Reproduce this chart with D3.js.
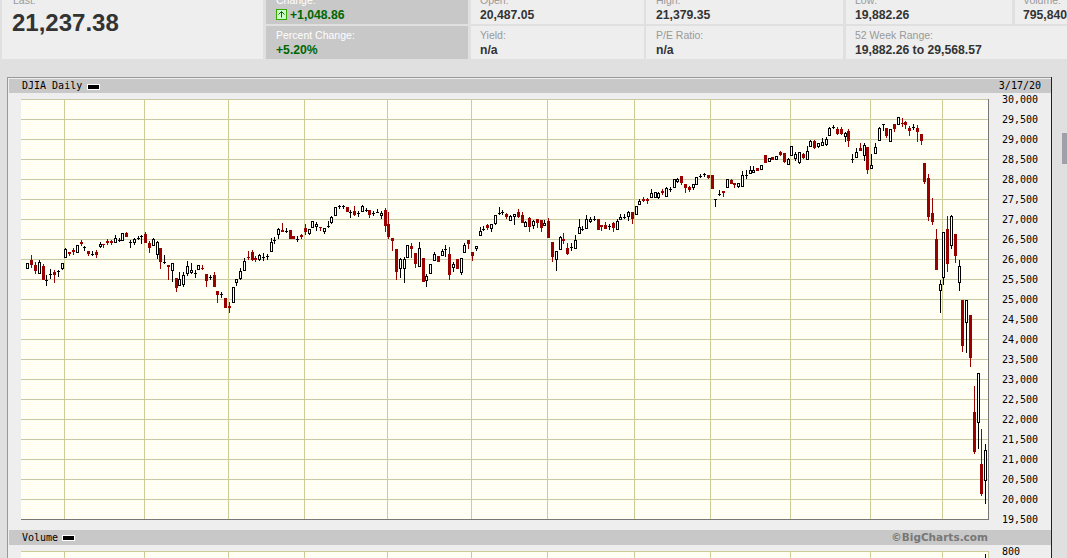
<!DOCTYPE html>
<html>
<head>
<meta charset="utf-8">
<script src="https://cdn.jsdelivr.net/npm/d3@7"></script>
<style>
  html, body { margin: 0; padding: 0; background: #e0e0e0; overflow: hidden; }
  svg { display: block; }
  text { font-family: "Liberation Sans", Arial, sans-serif; }
  .mono text, text.mono { font-family: "DejaVu Sans Mono", monospace; font-size: 10px; fill: #000; }
</style>
</head>
<body>
<div id="chart"></div>
<script>
// daily DJIA candles, one entry per trading day
const opens = [25784,25983,25858,25667,25833,25500,25650,25683,25708,25800,
  26067,26200,26242,26192,26433,26317,26225,26150,26183,26342,
  26400,26475,26467,26442,26500,26500,26658,26442,26433,26542,
  26583,26633,26417,26367,26142,26283,25942,25875,25733,25550,
  25367,25392,25667,25683,25658,25767,25800,25650,25567,25608,
  25225,25133,25033,24833,24950,25442,25542,25742,26075,26183,
  26033,26008,26058,26083,26217,26483,26642,26733,26725,26733,
  26583,26517,26608,26800,26675,26825,26842,26825,26717,26842,
  26942,27117,27350,27342,27317,27200,27225,27167,27217,27242,
  27233,27158,27192,27117,27233,26883,26533,26258,25792,25792,
  26067,26333,26167,25842,26033,25500,25667,25992,26083,26117,
  26258,26133,25808,26017,25683,26192,26492,26183,26300,26600,
  26775,26867,26792,26917,27175,27183,27142,26992,27092,27192,
  27117,26842,27033,26858,27008,27000,26858,26967,26442,26025,
  26250,26517,26300,26325,26300,26675,26775,26800,26950,27025,
  27008,26858,26858,26842,26908,26767,27025,27058,27092,27192,
  27133,27400,27517,27517,27575,27575,27575,27725,27592,27775,
  27825,27975,28083,27883,27817,27808,27900,28100,28150,28108,
  28117,27508,27642,27725,27825,27992,27925,27842,27850,28117,
  28167,28192,28283,28267,28608,28467,28558,28517,28683,28658,
  28383,28617,28533,28442,28633,28525,28842,28975,28833,28867,
  28883,29117,29317,29258,29258,29092,29225,28517,28567,28800,
  28617,28808,28292,28667,29000,29383,29283,28967,29383,29392,
  29425,29433,29292,29317,29292,29133,28408,28033,27158,26525,
  25233,25567,26758,26367,26650,25442,24983,24442,24600,22183,
  21950,20900,20487.05];
const highs = [25917,26108,25933,26000,25883,25608,25775,25750,25733,25925,
  26275,26200,26283,26375,26483,26333,26225,26208,26233,26433,
  26400,26525,26500,26600,26550,26675,26683,26500,26542,26592,
  26608,26683,26458,26542,26475,26283,26108,25875,25925,25550,
  25683,25683,25958,25917,25733,25875,25858,25650,25625,25700,
  25225,25200,25033,24933,25325,25525,25800,26042,26208,26233,
  26083,26133,26167,26150,26533,26558,26792,26908,26792,26733,
  26583,26583,26633,26900,26775,26950,26933,26825,26800,26967,
  27092,27325,27367,27375,27317,27250,27333,27217,27358,27292,
  27233,27208,27267,27208,27283,27183,26550,26258,26050,26067,
  26375,26408,26167,26433,26033,25633,25883,26200,26100,26250,
  26375,26317,25950,26017,26033,26408,26492,26183,26350,26817,
  26842,26900,26900,27125,27300,27233,27158,27125,27150,27258,
  27192,26967,27075,26992,27008,27000,27000,27033,26442,26208,
  26583,26658,26408,26408,26617,27017,26850,27117,27075,27100,
  27008,26858,26933,26892,26933,27008,27142,27142,27217,27192,
  27333,27508,27558,27533,27758,27683,27700,27758,27808,27817,
  28008,28042,28083,27883,27842,27883,28058,28150,28158,28108,
  28117,27508,27742,27725,28025,28008,27925,27925,28208,28233,
  28333,28333,28300,28375,28608,28550,28575,28600,28708,28658,
  28533,28850,28700,28700,28675,28850,28992,29000,28900,29050,
  29058,29308,29358,29325,29325,29183,29275,28642,28800,28925,
  28900,28808,28633,28908,29308,29400,29283,29275,29400,29550,
  29525,29458,29342,29400,29358,29133,28408,28133,27533,26775,
  25483,26700,27083,27108,26650,25983,24983,25000,24600,22833,
  23175,21758,21379.35];
const lows = [25767,25792,25642,25650,25492,25342,25517,25417,25558,25733,
  26042,26083,26125,26192,26350,26225,26083,26092,26042,26300,
  26283,26375,26375,26417,26450,26500,26567,26292,26358,26483,
  26392,26408,26167,26358,26017,25758,25883,25483,25433,25183,
  25350,25308,25600,25650,25533,25767,25733,25308,25483,25317,
  24917,25042,24783,24658,24950,25333,25500,25742,25983,25967,
  25942,25967,25967,26000,26217,26400,26508,26692,26675,26508,
  26508,26450,26508,26625,26608,26825,26717,26708,26633,26783,
  26900,27117,27267,27275,27192,27042,27100,27067,27200,27183,
  27042,27092,27167,27025,26683,26508,26217,25483,25550,25417,
  26067,26050,25792,25817,25450,25317,25667,25983,25933,26100,
  26067,25483,25683,25758,25608,26167,26258,25967,26217,26600,
  26717,26733,26700,26858,27108,27125,27008,26975,26875,27042,
  26925,26808,26700,26758,26800,26700,26842,26550,25950,25725,
  26250,26383,26117,26217,26300,26675,26725,26800,26925,26950,
  26742,26725,26758,26742,26700,26750,27017,27008,26975,26892,
  27133,27400,27433,27392,27575,27575,27508,27617,27575,27692,
  27825,27925,27867,27675,27700,27742,27900,28033,28067,28008,
  27775,27325,27600,27550,27825,27892,27792,27792,27833,28017,
  28150,28175,28208,28267,28408,28467,28483,28517,28583,28408,
  28367,28617,28467,28392,28517,28492,28817,28758,28783,28833,
  28850,29100,29267,29117,29125,28942,28817,28417,28567,28708,
  28458,28142,28292,28667,28992,29208,29033,28967,29183,29392,
  29317,29267,29092,29250,28942,28858,27892,26967,26858,25733,
  24667,25358,25683,26250,25900,25208,23692,23667,23317,21142,
  21267,20092,19882.26];
const closes = [25900,25867,25708,25950,25492,25500,25650,25608,25708,25925,
  26250,26150,26183,26375,26383,26317,26133,26150,26117,26400,
  26358,26425,26417,26550,26500,26658,26567,26442,26517,26542,
  26583,26408,26283,26508,26433,25933,25942,25808,25925,25292,
  25525,25625,25850,25750,25658,25875,25758,25458,25567,25317,
  25108,25133,24783,24783,25325,25525,25708,25975,26033,26000,
  25983,26108,26058,26083,26450,26483,26758,26692,26725,26508,
  26508,26517,26567,26683,26775,26950,26900,26783,26783,26842,
  27075,27325,27350,27342,27192,27200,27125,27167,27333,27242,
  27117,27158,27192,27175,26833,26567,26467,25692,26025,26025,
  26375,26267,25892,26275,25450,25583,25883,26133,25933,26208,
  26258,25608,25892,25758,26033,26358,26392,26083,26350,26725,
  26775,26783,26900,27125,27175,27183,27058,27100,27133,27058,
  26925,26933,26808,26958,26908,26800,26917,26550,26075,26208,
  26558,26475,26142,26325,26492,26808,26775,27008,27017,27025,
  26742,26825,26775,26842,26783,26958,27075,27058,27183,27017,
  27333,27458,27475,27475,27658,27683,27667,27658,27783,27775,
  28008,28025,27908,27783,27742,27875,28058,28100,28150,28033,
  27775,27508,27642,27658,28008,27900,27867,27908,28125,28117,
  28233,28250,28217,28375,28425,28550,28500,28600,28608,28442,
  28517,28850,28633,28700,28550,28725,28958,28792,28900,28933,
  29025,29283,29317,29150,29150,29158,28958,28517,28700,28708,
  28858,28233,28375,28808,29283,29383,29083,29275,29267,29550,
  29392,29367,29208,29317,29183,28967,27950,27067,26933,25733,
  25400,26700,25892,27083,26092,25850,23842,25000,23550,21192,
  23175,20142,21237.38];
// month starts, in trading days from the first candle
const monthTicks = [9.7,30.7,52.8,72.8,94.6,116.8,136.8,159.7,179.7,200.7,221.7,240.7];
const priceTicks = d3.range(19500, 30001, 500);
// only the last volume bar reaches into the visible part of the page
const volumeDays = [252];
const volumeValues = [795.84];
const volumeTicks = [800];

const width = 1067, height = 558;
const plot = {left: 21, right: 988, top: 99, bottom: 520};

const svg = d3.select("#chart").append("svg")
    .attr("width", width)
    .attr("height", height);

// dithered pale yellow of the plot background
const pattern = svg.append("defs").append("pattern")
    .attr("id", "dither")
    .attr("width", 2).attr("height", 2)
    .attr("patternUnits", "userSpaceOnUse");
pattern.append("rect").attr("width", 2).attr("height", 2).attr("fill", "#ffffff");
pattern.append("rect").attr("width", 1).attr("height", 1).attr("fill", "#ffffea");
pattern.append("rect").attr("x", 1).attr("y", 1).attr("width", 1).attr("height", 1).attr("fill", "#ffffea");

// quote header
const header = svg.append("g").attr("shape-rendering", "crispEdges");
const cells = [
    [2, 0, 261, 59, "#eeeeee"], [266, 0, 202, 24, "#c8c8c8"], [266, 26, 202, 33, "#c8c8c8"],
    [471, 0, 173, 24, "#eeeeee"], [471, 26, 173, 33, "#eeeeee"],
    [646, 0, 197, 24, "#eeeeee"], [646, 26, 197, 33, "#eeeeee"],
    [846, 0, 166, 24, "#eeeeee"], [846, 26, 221, 33, "#eeeeee"],
    [1015, 0, 52, 24, "#eeeeee"]
];
header.selectAll("rect").data(cells).join("rect")
    .attr("x", d => d[0]).attr("y", d => d[1])
    .attr("width", d => d[2]).attr("height", d => d[3])
    .attr("fill", d => d[4]);

const labels = [
    ["Last:", 13, 4, "#999999"], ["Change:", 276, 4, "#ffffff"], ["Percent Change:", 276, 39, "#ffffff"],
    ["Open:", 480, 4, "#999999"], ["Yield:", 480, 39, "#999999"],
    ["High:", 656, 4, "#999999"], ["P/E Ratio:", 656, 39, "#999999"],
    ["Low:", 855, 4, "#999999"], ["52 Week Range:", 855, 39, "#999999"], ["Volume:", 1023, 4, "#999999"]
];
svg.append("g").selectAll("text").data(labels).join("text")
    .attr("x", d => d[1]).attr("y", d => d[2])
    .attr("fill", d => d[3]).style("font-size", "10.5px")
    .text(d => d[0]);

const values = [
    ["+1,048.86", 290, 19, "#006600"], ["+5.20%", 276, 54, "#006600"],
    ["20,487.05", 480, 19, "#333333"], ["n/a", 480, 54, "#333333"],
    ["21,379.35", 656, 19, "#333333"], ["n/a", 656, 54, "#333333"],
    ["19,882.26", 855, 19, "#333333"], ["19,882.26 to 29,568.57", 855, 54, "#333333"],
    ["795,840", 1023, 19, "#333333"]
];
svg.append("g").selectAll("text").data(values).join("text")
    .attr("x", d => d[1]).attr("y", d => d[2])
    .attr("fill", d => d[3]).style("font-size", "12.2px").style("font-weight", "bold")
    .text(d => d[0]);

svg.append("text").attr("x", 12).attr("y", 31)
    .attr("fill", "#333333").style("font-size", "24px").style("font-weight", "bold")
    .text("21,237.38");

// up arrow icon beside the change
const icon = svg.append("g").attr("transform", "translate(276,9)");
icon.append("rect").attr("x", 0.5).attr("y", 0.5).attr("width", 10).attr("height", 10)
    .attr("fill", "#ccffcc").attr("stroke", "#33aa00");
icon.append("path").attr("d", "M2.5 5.5 L5.5 2.5 L8.5 5.5 M5.5 2.5 V8.5")
    .attr("fill", "none").attr("stroke", "#116600").attr("stroke-width", 1);

// chart panel
const panel = svg.append("g").attr("shape-rendering", "crispEdges");
panel.append("rect").attr("x", 7).attr("y", 77).attr("width", 1045).attr("height", 490)
    .attr("fill", "#eeeeee");
panel.append("path").attr("d", "M7.5 558 V77.5 H1051.5").attr("fill", "none").attr("stroke", "#999999");
panel.append("path").attr("d", "M1051.5 77 V558").attr("fill", "none").attr("stroke", "#222222");
panel.append("rect").attr("x", 9).attr("y", 79).attr("width", 1042).attr("height", 14).attr("fill", "#c8c8c8");
panel.append("rect").attr("x", 9).attr("y", 530).attr("width", 1042).attr("height", 15).attr("fill", "#c8c8c8");

// scrollbar thumb at the page edge
svg.append("rect").attr("x", 1062).attr("y", 133).attr("width", 5).attr("height", 31).attr("fill", "#a0a0a8");

svg.append("text").attr("class", "mono").attr("x", 22).attr("y", 89).text("DJIA Daily");
svg.append("text").attr("class", "mono").attr("x", 22).attr("y", 541).text("Volume");
svg.append("text").attr("class", "mono").attr("x", 1041).attr("y", 89).attr("text-anchor", "end").text("3/17/20");
svg.append("text").attr("x", 988).attr("y", 541).attr("text-anchor", "end")
    .attr("fill", "#777777")
    .style("font-family", "'DejaVu Sans', sans-serif").style("font-size", "10.5px").style("font-weight", "bold")
    .text("©BigCharts.com");

[[87, 84], [62, 535]].forEach(p => {
    svg.append("rect").attr("x", p[0]).attr("y", p[1]).attr("width", 12).attr("height", 5)
        .attr("fill", "#000").attr("stroke", "#fff").attr("stroke-width", 1).attr("shape-rendering", "crispEdges");
});

// scales
const x = d3.scaleLinear().domain([0, opens.length - 1]).range([27.3, 985.3]);
const y = d3.scaleLinear().domain([19500, 30000]).range([519.5, 99.5]);
const yVol = d3.scaleLinear().domain([0, 800]).range([551.5 + 200, 551.5]);
const px = v => Math.round(x(v));

// price plot
svg.append("rect")
    .attr("x", plot.left).attr("y", plot.top)
    .attr("width", plot.right - plot.left).attr("height", plot.bottom - plot.top)
    .attr("fill", "url(#dither)").attr("shape-rendering", "crispEdges");

const yAxis = g => g
    .attr("transform", `translate(${plot.right}, 0)`)
    .call(d3.axisRight(y).tickValues(priceTicks).tickFormat(d3.format(",")).tickSize(0).tickPadding(14))
    .call(g => g.select(".domain").remove())
    .call(g => g.selectAll("text").style("font-family", "'DejaVu Sans Mono', monospace").style("font-size", "10px").attr("fill", "#000"));
svg.append("g").call(yAxis);

svg.append("g").attr("shape-rendering", "crispEdges").attr("stroke", "#c8c8aa")
    .selectAll("line").data(priceTicks.filter(d => d > 19500)).join("line")
    .attr("x1", plot.left).attr("x2", plot.right)
    .attr("y1", d => Math.floor(y(d)) + 0.5).attr("y2", d => Math.floor(y(d)) + 0.5);

svg.append("g").attr("shape-rendering", "crispEdges").attr("stroke", "#cccc99")
    .selectAll("line").data(monthTicks).join("line")
    .attr("x1", d => px(d) + 0.5).attr("x2", d => px(d) + 0.5)
    .attr("y1", plot.top).attr("y2", plot.bottom);

// plot edges
svg.append("path").attr("d", `M${plot.left} ${plot.bottom - 0.5} H${plot.right + 0.5} V${plot.top}`)
    .attr("fill", "none").attr("stroke", "#777777").attr("stroke-width", 1.5).attr("shape-rendering", "crispEdges");

// candles
const days = d3.range(opens.length);
const candle = svg.append("g").attr("shape-rendering", "crispEdges")
    .selectAll("g").data(days).join("g")
    .attr("transform", i => `translate(${px(i)}, 0)`);

const tone = i => closes[i] < opens[i] ? "#990000" : "#000000";

candle.append("rect")
    .attr("x", 0).attr("width", 1)
    .attr("y", i => Math.round(y(highs[i])))
    .attr("height", i => Math.max(1, Math.round(y(lows[i])) - Math.round(y(highs[i]))))
    .attr("fill", tone);

// dojis are a short black bar, the rest are bodies
candle.filter(i => closes[i] === opens[i]).append("rect")
    .attr("x", -1).attr("width", 3).attr("height", 1)
    .attr("y", i => Math.round(y(opens[i])))
    .attr("fill", "#000");

candle.filter(i => closes[i] < opens[i]).append("rect")
    .attr("x", -1).attr("width", 3)
    .attr("y", i => Math.round(y(opens[i])))
    .attr("height", i => Math.max(1, Math.round(y(closes[i])) - Math.round(y(opens[i]))))
    .attr("fill", "#990000");

candle.filter(i => closes[i] > opens[i]).append("rect")
    .attr("x", -0.5).attr("width", 2)
    .attr("y", i => Math.round(y(closes[i])) + 0.5)
    .attr("height", i => Math.max(1, Math.round(y(opens[i])) - Math.round(y(closes[i]))))
    .attr("fill", "#ffffff").attr("stroke", "#000");

// volume plot, cut off by the bottom of the page
svg.append("rect")
    .attr("x", plot.left).attr("y", 551)
    .attr("width", plot.right - plot.left).attr("height", 7)
    .attr("fill", "url(#dither)").attr("shape-rendering", "crispEdges");
svg.append("g").attr("shape-rendering", "crispEdges").attr("stroke", "#cccc99")
    .selectAll("line").data(monthTicks).join("line")
    .attr("x1", d => px(d) + 0.5).attr("x2", d => px(d) + 0.5)
    .attr("y1", 551).attr("y2", 558);
svg.append("path").attr("d", `M${plot.left} 551.5 H${plot.right + 0.5} V558`)
    .attr("fill", "none").attr("stroke", "#cccc99").attr("shape-rendering", "crispEdges");
svg.append("g").attr("shape-rendering", "crispEdges")
    .selectAll("rect").data(volumeDays).join("rect")
    .attr("x", d => px(d)).attr("width", 1)
    .attr("y", (d, i) => yVol(volumeValues[i]) + 1).attr("height", 10)
    .attr("fill", "#000");

const volAxis = g => g
    .attr("transform", `translate(${plot.right}, 0)`)
    .call(d3.axisRight(yVol).tickValues(volumeTicks).tickSize(0).tickPadding(14))
    .call(g => g.select(".domain").remove())
    .call(g => g.selectAll("text").style("font-family", "'DejaVu Sans Mono', monospace").style("font-size", "10px").attr("fill", "#000"));
svg.append("g").call(volAxis);
</script>
</body>
</html>
